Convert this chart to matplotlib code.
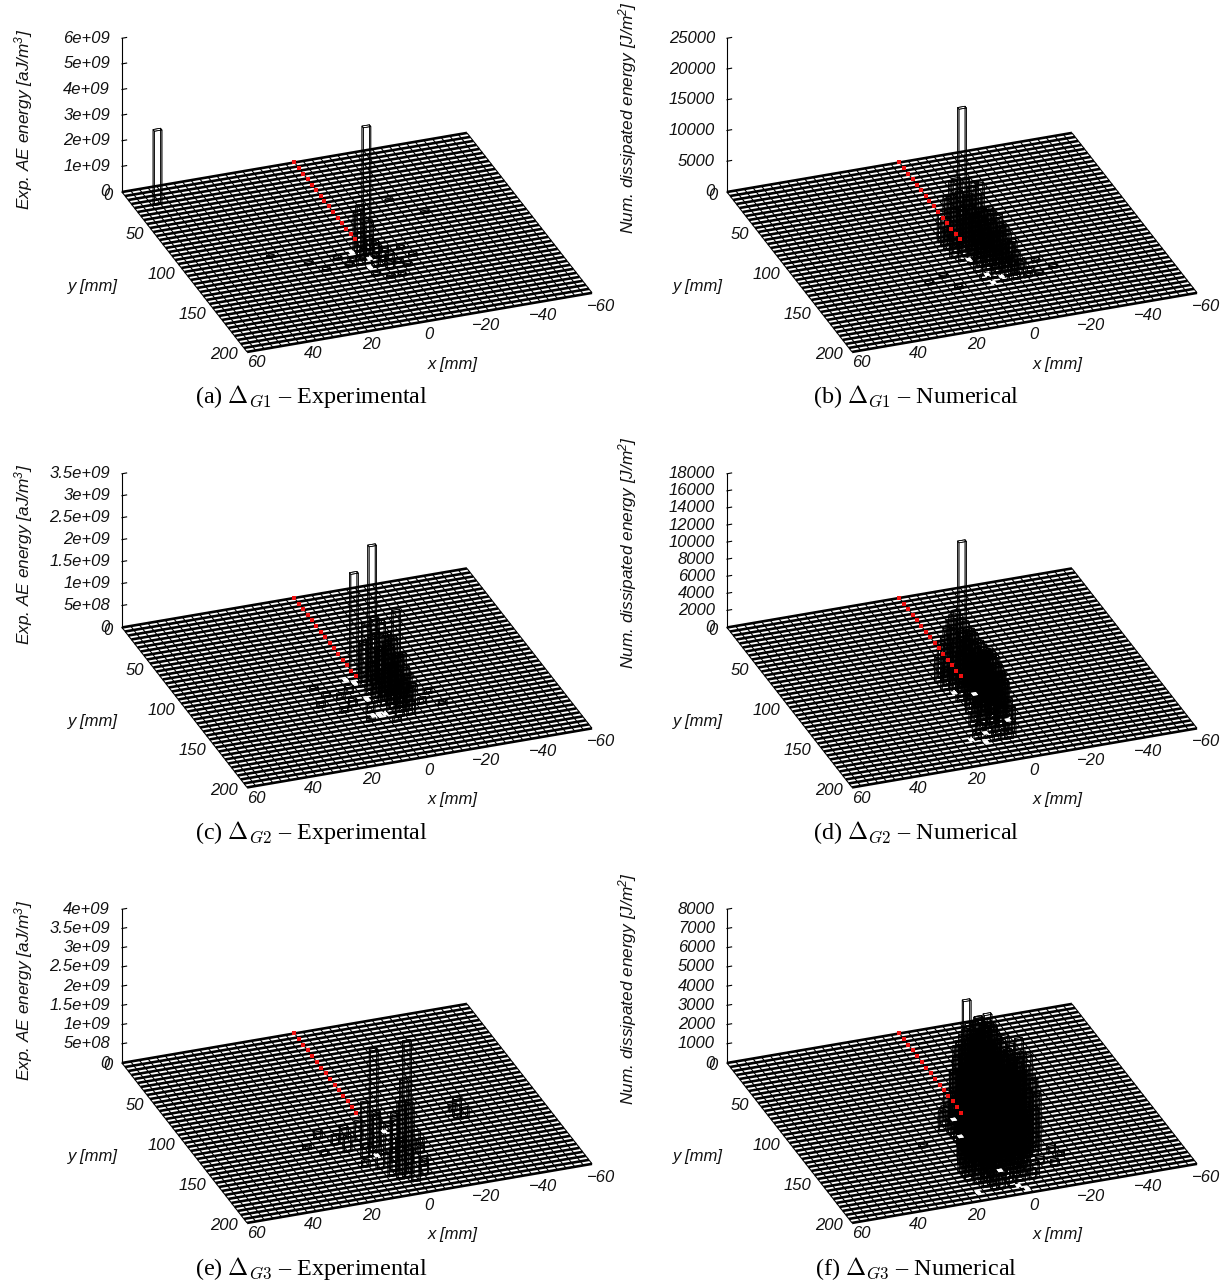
import numpy as np
import matplotlib
matplotlib.use("Agg")
import matplotlib.pyplot as plt
from mpl_toolkits.mplot3d import proj3d

W, H = 1227, 1283
plt.rcParams['mathtext.fontset'] = 'custom'
plt.rcParams['mathtext.it'] = 'Liberation Sans:italic'
plt.rcParams['mathtext.rm'] = 'Liberation Sans:italic'
plt.rcParams['mathtext.default'] = 'it'

# plate grid [mm]
grid_x = np.arange(-60, 61, 3)
grid_y = np.arange(0, 201, 5)
cell_dx, cell_dy = 2.6, 2.2
hole_dx, hole_dy = 1.7, 3.6
x_ticks = [60, 40, 20, 0, -20, -40, -60]
y_ticks = [0, 50, 100, 150, 200]

# crack line (red dots)
crack_y1 = [0, 7, 14, 21, 28, 35, 42, 48, 55, 62, 69, 76, 83, 90, 96]
crack_y2 = [0, 7, 14, 21, 28, 35, 42, 49, 56, 63, 70, 77, 84, 91, 98]
crack_y3 = [0, 7, 14, 21, 28, 36, 43, 50, 57, 64, 71, 78, 85, 92, 99]

# panel a: experimental G1 [aJ/m3]
a_x = [52, 0, 2, 0, -2, 2, 0, -2, -4, 2, 4, -6, -2, 0, -4, 6, 8, 10, -8, -10, -14, -4, 16, 20, -6, 2, -2, -12, 30, -20, -28]
a_y = [20, 115, 110, 105, 110, 115, 120, 120, 125, 120, 125, 125, 130, 130, 135, 120, 125, 115, 130, 135, 125, 115, 125, 115, 145, 140, 145, 115, 100, 60, 80]
a_h = [2.9e9, 5.0e9, 1.5e9, 1.6e9, 1.1e9, 9e8, 8e8, 6e8, 5e8, 4e8, 3e8, 2.5e8, 3.5e8, 4e8, 3e8, 1.5e8, 1.2e8, 1e8, 1.5e8, 1.2e8, 1e8, 2.5e8, 8e7, 6e7, 8e7, 1.5e8, 1.2e8, 7e7, 5e7, 5e7, 5e7]
a_hole_x = [4, 0, 2]
a_hole_y = [110, 120, 130]

# panel b: numerical G1 [J/m2]
b_x = [0, 6, 4, 2, 6, 4, 2, -2, 6, 4, 2, 0, -2, -4, 4, 2, 0, -2, -4, -6, 6, 2, 0, -2, -4, -6, 4, 0, -2, -4, -6, -8,
       2, 0, -2, -4, -6, -8, 0, -2, -4, -6, -8, -10, 2, -2, -4, -6, -8, -10, 0, -4, -6, -8, -10, -12,
       2, -2, -6, -8, -10, -14, -4, -8, -12, 12, -16, 14, 20, -18, -22]
b_y = [100, 95, 95, 95, 100, 100, 100, 100, 105, 105, 105, 105, 105, 105, 110, 110, 110, 110, 110, 110, 115, 115, 115, 115, 115, 115, 120, 120, 120, 120, 120, 120,
       125, 125, 125, 125, 125, 125, 130, 130, 130, 130, 130, 130, 135, 135, 135, 135, 135, 135, 140, 140, 140, 140, 140, 140,
       145, 145, 145, 145, 145, 145, 150, 150, 150, 150, 150, 135, 140, 135, 145]
b_h = [21900, 5000, 7000, 9500, 4500, 8000, 10500, 7000, 3500, 6500, 9000, 11000, 9500, 5000, 5000, 7000, 9000, 11000, 10500, 4000, 2000, 6000, 8000, 9500, 7000, 6000, 2500, 7000, 8000, 7500, 7000, 3500,
       3000, 5000, 7000, 8500, 6500, 5500, 4000, 6000, 7000, 8000, 6000, 3000, 2500, 4500, 6000, 6500, 5500, 4000, 1500, 4000, 5000, 4500, 3000, 1500,
       800, 1800, 2500, 3000, 2000, 700, 700, 900, 600, 400, 500, 500, 350, 400, 300]
b_hole_x = [2, 0, 0, -4]
b_hole_y = [120, 140, 150, 145]

# panel c: experimental G2 [aJ/m3]
c_x = [0, -2, -6, -2, -4, -2, 0, -4, -6, -2, -4, -6, 0, -8, -2, -4, -6, -8, 0, -2, -4, -6, -8, -10, -2, -4, -8, -10, -4, -6, -8, -10, -2, -6, -8, -4, -8,
       6, 10, 14, 18, 8, 12, 4, -14, -18, -14, -20, 16, 6, -2]
c_y = [95, 115, 135, 100, 105, 105, 110, 110, 110, 120, 120, 120, 120, 120, 125, 125, 125, 125, 130, 130, 130, 130, 130, 130, 135, 135, 135, 135, 140, 140, 140, 140, 145, 145, 145, 150, 150,
       115, 120, 115, 125, 130, 135, 140, 125, 130, 140, 145, 105, 150, 155]
c_h = [2.3e9, 3.27e9, 2.1e9, 8e8, 1.0e9, 1.3e9, 1.0e9, 1.5e9, 7e8, 1.4e9, 1.6e9, 1.1e9, 7e8, 6e8, 1.1e9, 1.4e9, 1.3e9, 9e8, 6e8, 1.2e9, 1.5e9, 1.4e9, 1.0e9, 5e8, 8e8, 1.3e9, 1.1e9, 6e8, 1.0e9, 1.2e9, 9e8, 5e8, 5e8, 7e8, 5e8, 3e8, 3e8,
       1.5e8, 1.2e8, 1e8, 1e8, 1.5e8, 1e8, 2e8, 1.5e8, 1e8, 1.2e8, 8e7, 6e7, 8e7, 1e8]
c_hole_x = [4, 2, 2, 4, 2, 0]
c_hole_y = [100, 105, 125, 145, 145, 145]

# panel d: numerical G2 [J/m2]
d_x = [0, 6, 4, 2, 8, 6, 4, 2, -2, 6, 4, 2, 0, -2, 8, 4, 2, 0, -2, -4, 6, 4, 2, 0, -2, -4, 4, 2, 0, -2, -4, -6, 6, 2, 0, -2, -4, -6,
       4, 2, 0, -2, -4, -6, 4, 2, 0, -2, -4, -6, 6, 2, 0, -2, -4, -6, 4, 2, 0, -2, -4, 6, 4, 0, -2, -4, 8, 4, 2, -2, -4, 6, 2, 0, -4, 8, 4, 0, -2, 10, 6, 2, -2, 4, 0]
d_y = [100, 95, 95, 95, 100, 100, 100, 100, 100, 105, 105, 105, 105, 105, 110, 110, 110, 110, 110, 110, 115, 115, 115, 115, 115, 115, 120, 120, 120, 120, 120, 120, 125, 125, 125, 125, 125, 125,
       130, 130, 130, 130, 130, 130, 135, 135, 135, 135, 135, 135, 140, 140, 140, 140, 140, 140, 145, 145, 145, 145, 145, 150, 150, 150, 150, 150, 155, 155, 155, 155, 155, 160, 160, 160, 160, 165, 165, 165, 165, 170, 170, 170, 170, 175, 175]
d_h = [16000, 4000, 5500, 7000, 3000, 5000, 7000, 8000, 5000, 4500, 6500, 7500, 7000, 6000, 2500, 5500, 6500, 6500, 6000, 3000, 2500, 4500, 6000, 6500, 5500, 4000, 5000, 5500, 6000, 6000, 4500, 2000, 2000, 5000, 5500, 6000, 5000, 2500,
       3000, 4500, 5500, 6000, 5500, 3000, 3500, 5000, 6000, 6500, 5500, 3500, 2000, 4500, 5500, 6000, 5000, 3000, 2500, 4000, 5000, 5500, 4500, 2000, 3500, 4500, 5000, 4000, 1500, 3000, 4000, 4000, 2500, 2000, 3500, 4000, 2000, 1200, 2500, 3000, 2500, 800, 1500, 2000, 1200, 800, 700]
d_hole_x = [6, 0, 12, 6, 8, -4]
d_hole_y = [115, 120, 170, 165, 175, 155]

# panel e: experimental G3 [aJ/m3]
e_x = [4, 0, -30, 6, 2, 4, 6, 10, 14, 18, 12, 8, 0, 0, 2, -2, 2, -2, 0, 4, 6, -4, -6, -8, 10, -10, -4, -12, 20, 24, -32, -30]
e_y = [145, 180, 122, 140, 140, 150, 130, 125, 130, 120, 140, 150, 150, 160, 170, 175, 180, 185, 175, 175, 165, 165, 180, 170, 160, 155, 150, 145, 140, 130, 125, 115]
e_h = [2.65e9, 3.55e9, 4.7e8, 1.2e9, 9e8, 1.0e9, 5e8, 3e8, 2.5e8, 2e8, 4e8, 3.5e8, 8e8, 1.1e9, 1.5e9, 1.8e9, 2.0e9, 1.3e9, 2.4e9, 7e8, 4e8, 4e8, 3e8, 2e8, 1.5e8, 2e8, 3e8, 1.2e8, 1.2e8, 1e8, 2.5e8, 1.5e8]
e_hole_x = [4, -4]
e_hole_y = [150, 125]

# panel f: numerical G3 [J/m2]
f_x = [6, 4, 2, -10, 6, 4, 2, 8, 4, 2, 0, 10, 6, 4, 2, 0, 8, 6, 4, 2, 0, -2, 8, 6, 4, 2, 0, -2, -4, 8, 6, 4, 2, 0, -2, -4, -6,
       8, 4, 2, 0, -2, -4, -6, -8, 8, 6, 4, 2, 0, -2, -4, -6, -8, -10, -12, 10, 8, 6, 4, 2, 0, -2, -4, -6, -8, -10,
       10, 8, 6, 4, 2, 0, -4, -6, -8, -10, -12, -14, 12, 10, 8, 6, 4, 2, 0, -2, -4, -6, -8, -10, -12, -14,
       12, 10, 8, 6, 4, 2, 0, -2, -4, -6, -8, -10, -12, 14, 12, 10, 8, 6, 4, 2, 0, -2, -4, -6, -8,
       14, 12, 10, 8, 6, 2, 0, -2, -4, -6, 14, 10, 8, 6, 4, 2, -2, -4, -6, 12, 10, 8, 6, 2, -2, -4, -8, 10, 8, 6, 2, -2, -6, 8, 6, 2,
       -14, -18, -16, 20, -12, -20]
f_y = [135, 145, 150, 145, 105, 105, 105, 110, 110, 110, 110, 115, 115, 115, 115, 115, 120, 120, 120, 120, 120, 120, 125, 125, 125, 125, 125, 125, 125, 130, 130, 130, 130, 130, 130, 130, 130,
       135, 135, 135, 135, 135, 135, 135, 135, 140, 140, 140, 140, 140, 140, 140, 140, 140, 140, 140, 145, 145, 145, 145, 145, 145, 145, 145, 145, 145, 145,
       150, 150, 150, 150, 150, 150, 150, 150, 150, 150, 150, 150, 155, 155, 155, 155, 155, 155, 155, 155, 155, 155, 155, 155, 155, 155,
       160, 160, 160, 160, 160, 160, 160, 160, 160, 160, 160, 160, 160, 165, 165, 165, 165, 165, 165, 165, 165, 165, 165, 165, 165,
       170, 170, 170, 170, 170, 170, 170, 170, 170, 170, 175, 175, 175, 175, 175, 175, 175, 175, 175, 180, 180, 180, 180, 180, 180, 180, 180, 185, 185, 185, 185, 185, 185, 190, 190, 190,
       135, 160, 175, 130, 170, 165]
f_h = [7500, 7000, 7300, 5500, 1500, 2500, 1500, 1000, 3500, 4000, 1500, 1000, 3000, 4500, 4500, 2500, 2000, 4500, 5000, 4800, 3000, 1500, 2000, 3500, 5500, 5500, 5000, 3500, 2000, 1500, 4500, 6000, 6000, 5500, 4500, 3000, 2000,
       3500, 5500, 6500, 6000, 5000, 3800, 3000, 2500, 3000, 4500, 6000, 6500, 6500, 6200, 5500, 4500, 4000, 3500, 3500, 2500, 4000, 5500, 6000, 6500, 6500, 6000, 5000, 4800, 4500, 4500,
       3500, 5000, 6000, 6500, 6500, 6500, 6000, 5500, 5000, 5000, 4800, 3500, 2800, 4500, 5500, 6000, 6500, 6000, 6000, 6000, 5500, 5000, 5000, 4500, 4000, 3000,
       3500, 5000, 5500, 6000, 6000, 6000, 5500, 5500, 5000, 4500, 4500, 3500, 2500, 2500, 4000, 5000, 5500, 5500, 5500, 5000, 5000, 5000, 4500, 3500, 3000,
       3000, 4000, 4500, 5000, 5000, 4500, 4500, 4000, 3500, 2800, 3000, 4000, 4500, 4500, 4000, 4000, 3500, 3000, 1500, 2500, 3500, 3800, 4000, 3000, 2000, 1500, 600, 2800, 3000, 2500, 1500, 900, 500, 1500, 1200, 500,
       1000, 400, 300, 200, 300, 200]
f_hole_x = [4, 6, 14, 2, 0, -2]
f_hole_y = [105, 125, 190, 170, 190, 195]

# z ticks and labels
a_zt = [0, 1e9, 2e9, 3e9, 4e9, 5e9, 6e9]
a_zl = ['0', '1e+09', '2e+09', '3e+09', '4e+09', '5e+09', '6e+09']
b_zt = [0, 5000, 10000, 15000, 20000, 25000]
c_zt = [0, 5e8, 1e9, 1.5e9, 2e9, 2.5e9, 3e9, 3.5e9]
c_zl = ['0', '5e+08', '1e+09', '1.5e+09', '2e+09', '2.5e+09', '3e+09', '3.5e+09']
d_zt = [0, 2000, 4000, 6000, 8000, 10000, 12000, 14000, 16000, 18000]
e_zt = [0, 5e8, 1e9, 1.5e9, 2e9, 2.5e9, 3e9, 3.5e9, 4e9]
e_zl = ['0', '5e+08', '1e+09', '1.5e+09', '2e+09', '2.5e+09', '3e+09', '3.5e+09', '4e+09']
f_zt = [0, 1000, 2000, 3000, 4000, 5000, 6000, 7000, 8000]

exp_label = r"Exp. AE energy [aJ/m$^{3}$]"
num_label = r"Num. dissipated energy [J/m$^{2}$]"
captions = [r"(a) $\Delta_{G1}$ – Experimental", r"(b) $\Delta_{G1}$ – Numerical",
            r"(c) $\Delta_{G2}$ – Experimental", r"(d) $\Delta_{G2}$ – Numerical",
            r"(e) $\Delta_{G3}$ – Experimental", r"(f) $\Delta_{G3}$ – Numerical"]

panels = [
    (a_x, a_y, a_h, a_hole_x, a_hole_y, a_zt, a_zl, exp_label, crack_y1),
    (b_x, b_y, b_h, b_hole_x, b_hole_y, b_zt, [str(t) for t in b_zt], num_label, crack_y1),
    (c_x, c_y, c_h, c_hole_x, c_hole_y, c_zt, c_zl, exp_label, crack_y2),
    (d_x, d_y, d_h, d_hole_x, d_hole_y, d_zt, [str(t) for t in d_zt], num_label, crack_y2),
    (e_x, e_y, e_h, e_hole_x, e_hole_y, e_zt, e_zl, exp_label, crack_y3),
    (f_x, f_y, f_h, f_hole_x, f_hole_y, f_zt, [str(t) for t in f_zt], num_label, crack_y3),
]

fig = plt.figure(figsize=(W / 100, H / 100), dpi=100, facecolor='white')
LW_ROW = 1.9
LW_COL = 0.8
LW_BAR = 0.5
SANS = dict(family='Liberation Sans', style='italic', color='#111111')


def to_px(ax, x, y, z):
    u, v, _ = proj3d.proj_transform(x, y, z, ax.get_proj())
    d = ax.transData.transform((u, v))
    return d[0], H - d[1]


def fit_axes(ax, p0, p1):
    """Place the 3D axes so that plate corners land on the target pixels."""
    size = 700.0
    ax.set_position([0.1, 0.1, size / W, size / H])
    ax.apply_aspect()
    a = np.array(to_px(ax, 60, 0, 0))
    b = np.array(to_px(ax, -60, 200, 0))
    size *= np.hypot(*(np.array(p1) - np.array(p0))) / np.hypot(*(b - a))
    ax.set_position([0.1, 0.1, size / W, size / H])
    ax.apply_aspect()
    a = np.array(to_px(ax, 60, 0, 0))
    left = 0.1 * W + (p0[0] - a[0])
    bottom = 0.1 * H - (p0[1] - a[1])
    ax.set_position([left / W, bottom / H, size / W, size / H])
    ax.apply_aspect()


X, Y = np.meshgrid(grid_x, grid_y)
Z = np.zeros_like(X, dtype=float)

for i, (px, py, ph, hx, hy, zt, zl, zlabel, crack) in enumerate(panels):
    row, col = i // 2, i % 2
    ox, oy = col * 605, row * 435.5
    ax = fig.add_axes([0.1, 0.1, 0.5, 0.5], projection='3d', proj_type='ortho',
                      computed_zorder=False)
    ax.patch.set_visible(False)
    ax.view_init(elev=27.9, azim=69.9)
    ax.set_box_aspect((367.4, 364.0, 174.0), zoom=0.6)
    ax.set_xlim(-60, 60)
    ax.set_ylim(0, 200)
    ax.set_zlim(0, zt[-1])
    ax.set_axis_off()
    fit_axes(ax, (122 + ox, 192 + oy), (592 + ox, 293 + oy))

    # rows read as thick bands, columns as thin lines
    ax.plot_wireframe(X, Y, Z, rstride=1, cstride=0, color='black', linewidth=LW_ROW, zorder=1)
    ax.plot_wireframe(X, Y, Z, rstride=0, cstride=1, color='black', linewidth=LW_COL, zorder=1)
    ax.bar3d(np.array(px) - cell_dx / 2, np.array(py) - cell_dy / 2, np.zeros(len(px)),
             cell_dx, cell_dy, ph, color=(1, 1, 1, 0),
             edgecolor='black', linewidth=LW_BAR, shade=False, zorder=2)
    ax.bar3d(np.array(hx) - hole_dx / 2, np.array(hy) - hole_dy / 2, np.zeros(len(hx)),
             hole_dx, hole_dy, np.zeros(len(hx)), color='white',
             edgecolor='none', linewidth=0, shade=False, zorder=3)
    ax.plot(np.zeros(len(crack)), crack, np.zeros(len(crack)), ls='none', marker='s',
            ms=3.2, mew=0, color='#f01010', zorder=4)

    # z axis with ticks
    ax.plot([60, 60], [0, 0], [0, zt[-1]], color='black', lw=0.8, zorder=5)
    for t, lab in zip(zt, zl):
        ax.plot([60, 58.4], [0, 0], [t, t], color='black', lw=0.8, zorder=5)
        tx, ty = to_px(ax, 60, 0, t)
        fig.text((tx - 12) / W, 1 - ty / H, lab, ha='right', va='center', fontsize=12, **SANS)
    for t in x_ticks:
        tx, ty = to_px(ax, t, 200, 0)
        lab = str(t).replace('-', '\u2212')
        fig.text((tx + 9) / W, 1 - (ty + 11 + (60 - t) * 0.02) / H, lab, ha='center', va='center',
                 fontsize=12, **SANS)
    for t in y_ticks:
        tx, ty = to_px(ax, 60, t, 0)
        fig.text((tx - 9) / W, 1 - (ty + 3) / H, str(t), ha='right', va='center',
                 fontsize=12, **SANS)

    fig.text((453 + ox) / W, 1 - (364 + oy) / H, 'x [mm]', ha='center', va='center', fontsize=12, **SANS)
    fig.text((93 + ox) / W, 1 - (286 + oy) / H, 'y [mm]', ha='center', va='center', fontsize=12, **SANS)
    zx = 24 + ox - (1 if col else 0)
    zy = (119 if col == 0 else 117) + oy
    fig.text(zx / W, 1 - zy / H, zlabel, rotation=90, ha='center', va='center',
             fontsize=12.4, **SANS)
    fig.text((311 + col * 605) / W, 1 - (397 + row * 436) / H, captions[i], ha='center', va='center',
             fontsize=17.4, family='Liberation Serif', math_fontfamily='cm', color='black')

fig.savefig('out.png', dpi=100)
